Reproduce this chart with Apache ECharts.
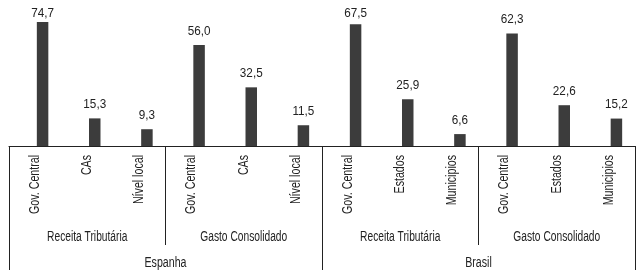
<!DOCTYPE html>
<html lang="pt">
<head>
    <meta charset="UTF-8">
    <title>Receita e gasto por nível de governo</title>
    <style>
        html, body { margin: 0; padding: 0; background: #fff; }
        #main { width: 642px; height: 280px; }
    </style>
</head>
<body>
    <div id="main"></div>
    <script src="https://cdn.jsdelivr.net/npm/echarts@6/dist/echarts.min.js"></script>
    <script>
        // dados
        var categories = ['Gov. Central', 'CAs', 'Nível local', 'Gov. Central', 'CAs', 'Nível local',
            'Gov. Central', 'Estados', 'Municipios', 'Gov. Central', 'Estados', 'Municipios'];
        var values = [74.7, 15.3, 9.3, 56.0, 32.5, 11.5, 67.5, 25.9, 6.6, 62.3, 22.6, 15.2];
        var groups = ['Receita Tributária', 'Gasto Consolidado', 'Receita Tributária', 'Gasto Consolidado'];
        var countries = ['Espanha', 'Brasil'];

        // não há fonte condensada instalada: Liberation Sans comprimida na horizontal
        var font = "'Liberation Sans', Arial, sans-serif";
        var ink = '#222';

        function txt(s, x, y, size, narrow, opts) {
            opts = opts || {};
            return {
                type: 'text',
                x: x,
                y: y,
                rotation: opts.rotation || 0,
                scaleX: narrow,
                style: {
                    text: s,
                    fill: ink,
                    font: size + 'px ' + font,
                    textAlign: opts.align || 'center',
                    textVerticalAlign: 'middle'
                }
            };
        }

        var chart = echarts.init(document.getElementById('main'));

        var option = {
            animation: false,
            grid: { left: 9, right: 7, top: 22, bottom: 134 },
            xAxis: [{
                type: 'category',
                data: categories,
                position: 'bottom',
                axisLine: { show: true, lineStyle: { color: ink, width: 1 } },
                axisTick: { show: false },
                axisLabel: { show: false }
            }, {
                // separadores dos grupos (receita / gasto)
                type: 'category',
                data: groups,
                position: 'bottom',
                axisLine: { show: false },
                axisTick: { show: true, length: 99, lineStyle: { color: ink, width: 1 } },
                axisLabel: { show: false }
            }, {
                // separadores dos países
                type: 'category',
                data: countries,
                position: 'bottom',
                axisLine: { show: false },
                axisTick: { show: true, length: 124, lineStyle: { color: ink, width: 1 } },
                axisLabel: { show: false }
            }],
            yAxis: { type: 'value', min: 0, max: 68.7, show: false },
            series: [{
                type: 'custom',
                xAxisIndex: 0,
                yAxisIndex: 0,
                silent: true,
                data: values.map(function (v, i) { return [i, v]; }),
                renderItem: function (params, api) {
                    var top = api.coord([api.value(0), api.value(1)]);
                    var base = api.coord([api.value(0), 0]);
                    var gy = params.coordSys.y;
                    var y = Math.max(top[1], gy); // barra cortada no topo, como no original
                    var cx = top[0] + 7.5;
                    var bw = 11.5;
                    var ly = Math.max(13, y - 14);
                    return {
                        type: 'group',
                        children: [{
                            type: 'rect',
                            shape: { x: cx - bw / 2, y: y, width: bw, height: base[1] - y },
                            style: { fill: '#3c3c3c' }
                        }, txt(api.value(1).toFixed(1).replace('.', ','), cx, ly, 13, 0.9)]
                    };
                }
            }, {
                // rótulos do eixo em três níveis
                type: 'custom',
                xAxisIndex: 0,
                yAxisIndex: 0,
                silent: true,
                clip: false,
                data: categories.map(function (c, i) { return [i, 0]; }),
                renderItem: function (params, api) {
                    var i = api.value(0);
                    var p = api.coord([i, 0]);
                    var band = api.size([1, 0])[0];
                    var kids = [txt(categories[i], p[0], p[1] + 9, 14, 0.76, { rotation: Math.PI / 2, align: 'right' })];
                    if (i % 3 === 1) {
                        kids.push(txt(groups[(i - 1) / 3], p[0], p[1] + 91, 14, 0.73));
                    }
                    if (i % 6 === 2) {
                        kids.push(txt(countries[(i - 2) / 6], p[0] + band / 2, p[1] + 117, 14, 0.76));
                    }
                    return { type: 'group', children: kids };
                }
            }]
        };

        chart.setOption(option);
    </script>
</body>
</html>
